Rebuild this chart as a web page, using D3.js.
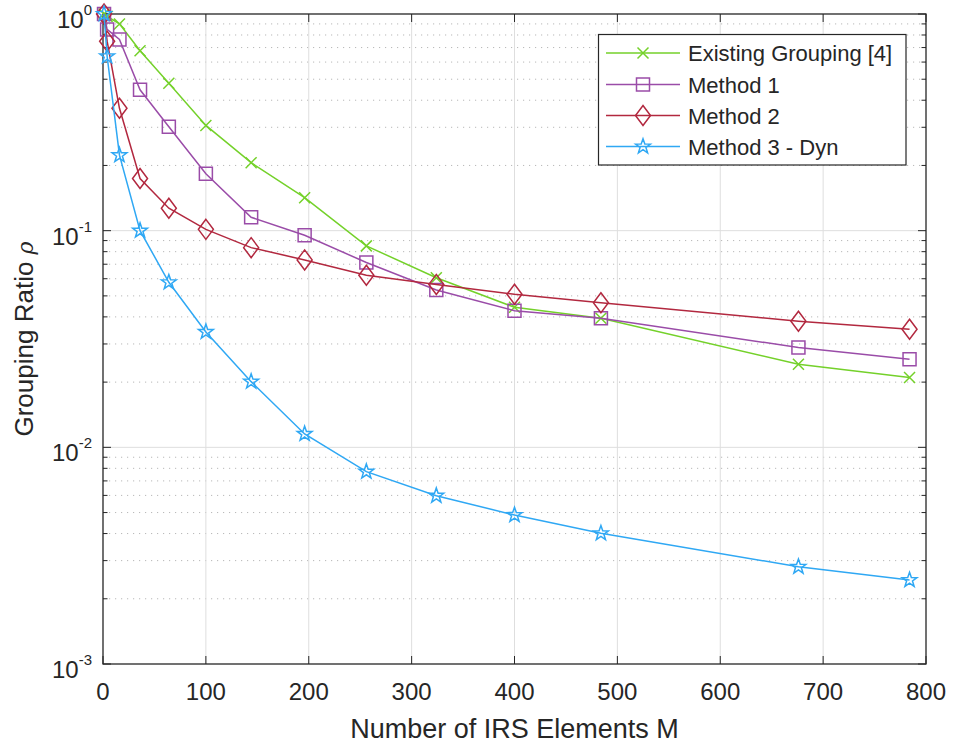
<!DOCTYPE html>
<html>
<head>
<meta charset="utf-8">
<script src="https://cdn.jsdelivr.net/npm/d3@7"></script>
<style>
  html, body { margin: 0; padding: 0; background: #ffffff; }
  svg { display: block; }
  text { font-family: "Liberation Sans", Arial, Helvetica, sans-serif; fill: #262626; }
</style>
</head>
<body>
<svg id="chart" width="953" height="746"></svg>
<script>
// IRS element counts (x positions of all markers)
const elementsM = [1, 4, 16, 36, 64, 100, 144, 196, 256, 324, 400, 484, 676, 784];

// Grouping ratio per method
const existingGrouping = [1.0, 0.975, 0.90, 0.677, 0.479, 0.306, 0.206, 0.142, 0.0851, 0.0606, 0.0443, 0.0394, 0.0242, 0.0210];
const method1 = [1.0, 0.849, 0.763, 0.447, 0.302, 0.183, 0.1153, 0.0952, 0.0713, 0.0532, 0.0427, 0.0394, 0.0289, 0.0255];
const method2 = [1.0, 0.749, 0.367, 0.174, 0.127, 0.1014, 0.0835, 0.0733, 0.0623, 0.0565, 0.0509, 0.0465, 0.0382, 0.0351];
const method3Dyn = [1.0, 0.638, 0.223, 0.100, 0.0578, 0.0341, 0.0201, 0.01153, 0.00772, 0.00598, 0.00487, 0.00401, 0.00281, 0.00244];

const seriesNames = ["Existing Grouping [4]", "Method 1", "Method 2", "Method 3 - Dyn"];
const seriesColors = ["#74d12a", "#9a4ca8", "#b2283f", "#2fa8f4"];
const seriesMarkers = ["cross", "square", "diamond", "star"];

const xTicks = [0, 100, 200, 300, 400, 500, 600, 700, 800];
const yDecades = [-3, -2, -1, 0];

const svg = d3.select("#chart");
const pLeft = 103, pRight = 926, pTop = 14, pBottom = 664;

const x = d3.scaleLinear().domain([0, 800]).range([pLeft, pRight]);
const y = d3.scaleLog().domain([1e-3, 1]).range([pBottom, pTop]);

const grid = svg.append("g");

// minor dotted horizontal grid (2..9 per decade)
const minorVals = [];
for (let e = -3; e < 0; e++) {
  for (let k = 2; k <= 9; k++) minorVals.push(k * Math.pow(10, e));
}
grid.selectAll("line.minor").data(minorVals).enter().append("line")
  .attr("x1", pLeft).attr("x2", pRight)
  .attr("y1", d => y(d)).attr("y2", d => y(d))
  .attr("stroke", "#b8b8b8").attr("stroke-width", 1)
  .attr("stroke-dasharray", "1.2,4.8");

// major grid
grid.selectAll("line.vx").data(xTicks.slice(1, -1)).enter().append("line")
  .attr("x1", d => x(d)).attr("x2", d => x(d))
  .attr("y1", pTop).attr("y2", pBottom)
  .attr("stroke", "#dedede").attr("stroke-width", 1);
grid.selectAll("line.hy").data(yDecades.slice(1, -1)).enter().append("line")
  .attr("x1", pLeft).attr("x2", pRight)
  .attr("y1", d => y(Math.pow(10, d))).attr("y2", d => y(Math.pow(10, d)))
  .attr("stroke", "#dedede").attr("stroke-width", 1);

// axes box with inward ticks
const axisColor = "#262626";
const axes = svg.append("g");
const tickLen = 8, minorLen = 4.5;
xTicks.forEach(t => {
  axes.append("line").attr("x1", x(t)).attr("x2", x(t)).attr("y1", pBottom).attr("y2", pBottom - tickLen)
    .attr("stroke", axisColor).attr("stroke-width", 1);
  axes.append("line").attr("x1", x(t)).attr("x2", x(t)).attr("y1", pTop).attr("y2", pTop + tickLen)
    .attr("stroke", axisColor).attr("stroke-width", 1);
  axes.append("text").attr("x", x(t)).attr("y", 700).attr("text-anchor", "middle")
    .attr("font-size", 24).text(d3.format("d")(t));
});
yDecades.forEach(e => {
  const yy = y(Math.pow(10, e));
  axes.append("line").attr("x1", pLeft).attr("x2", pLeft + tickLen).attr("y1", yy).attr("y2", yy)
    .attr("stroke", axisColor).attr("stroke-width", 1);
  axes.append("line").attr("x1", pRight).attr("x2", pRight - tickLen).attr("y1", yy).attr("y2", yy)
    .attr("stroke", axisColor).attr("stroke-width", 1);
  const t = axes.append("text").attr("x", 92).attr("y", yy + 14).attr("text-anchor", "end").attr("font-size", 24);
  t.append("tspan").text("10");
  t.append("tspan").attr("font-size", 15).attr("dy", -13).text(e);
});
minorVals.forEach(v => {
  const yy = y(v);
  axes.append("line").attr("x1", pLeft).attr("x2", pLeft + minorLen).attr("y1", yy).attr("y2", yy)
    .attr("stroke", axisColor).attr("stroke-width", 1);
  axes.append("line").attr("x1", pRight).attr("x2", pRight - minorLen).attr("y1", yy).attr("y2", yy)
    .attr("stroke", axisColor).attr("stroke-width", 1);
});
axes.append("rect").attr("x", pLeft).attr("y", pTop).attr("width", pRight - pLeft).attr("height", pBottom - pTop)
  .attr("fill", "none").attr("stroke", axisColor).attr("stroke-width", 1.3);

// axis labels
svg.append("text").attr("x", (pLeft + pRight) / 2).attr("y", 738).attr("text-anchor", "middle")
  .attr("font-size", 27).text("Number of IRS Elements M");
const yl = svg.append("text").attr("transform", `translate(33,${(pTop + pBottom) / 2}) rotate(-90)`)
  .attr("text-anchor", "middle").attr("font-size", 26);
yl.append("tspan").text("Grouping Ratio ");
yl.append("tspan").attr("font-family", "'DejaVu Serif', 'Liberation Serif', serif").attr("font-style", "italic").attr("font-size", 22).text("\u03C1");

// marker shapes
function markerPath(kind) {
  if (kind === "cross") {
    const s = 5.5;
    return `M${-s},${-s}L${s},${s}M${-s},${s}L${s},${-s}`;
  }
  if (kind === "square") {
    const s = 6.5;
    return `M${-s},${-s}H${s}V${s}H${-s}Z`;
  }
  if (kind === "diamond") {
    const w = 7.5, h = 10;
    return `M0,${-h}L${w},0L0,${h}L${-w},0Z`;
  }
  // five-pointed star
  const ro = 7.8, ri = 3.1;
  const pts = [];
  for (let i = 0; i < 10; i++) {
    const r = i % 2 === 0 ? ro : ri;
    const a = -Math.PI / 2 + i * Math.PI / 5;
    pts.push([r * Math.cos(a), r * Math.sin(a)]);
  }
  return "M" + pts.map(p => p[0].toFixed(2) + "," + p[1].toFixed(2)).join("L") + "Z";
}

const allSeries = [existingGrouping, method1, method2, method3Dyn];
const line = d3.line().x(d => x(d.m)).y(d => y(d.v));
const plot = svg.append("g");

allSeries.forEach((vals, i) => {
  const pts = elementsM.map((m, j) => ({ m, v: vals[j] }));
  plot.append("path").datum(pts).attr("d", line)
    .attr("fill", "none").attr("stroke", seriesColors[i]).attr("stroke-width", 1.5);
  plot.selectAll(null).data(pts).enter().append("path")
    .attr("d", markerPath(seriesMarkers[i]))
    .attr("transform", d => `translate(${x(d.m)},${y(d.v)})`)
    .attr("fill", "none").attr("stroke", seriesColors[i]).attr("stroke-width", 1.5);
});

// legend
const lg = svg.append("g");
lg.append("rect").attr("x", 598.5).attr("y", 34.5).attr("width", 307.5).attr("height", 130.5)
  .attr("fill", "#ffffff").attr("stroke", axisColor).attr("stroke-width", 1.2);
const rowY = [53, 84.5, 115.5, 146.5];
seriesNames.forEach((name, i) => {
  lg.append("line").attr("x1", 606).attr("x2", 680).attr("y1", rowY[i]).attr("y2", rowY[i])
    .attr("stroke", seriesColors[i]).attr("stroke-width", 1.5);
  lg.append("path").attr("d", markerPath(seriesMarkers[i]))
    .attr("transform", `translate(643,${rowY[i]})`)
    .attr("fill", "none").attr("stroke", seriesColors[i]).attr("stroke-width", 1.5);
  lg.append("text").attr("x", 688).attr("y", rowY[i] + 8).attr("font-size", 22).text(name);
});
</script>
</body>
</html>
